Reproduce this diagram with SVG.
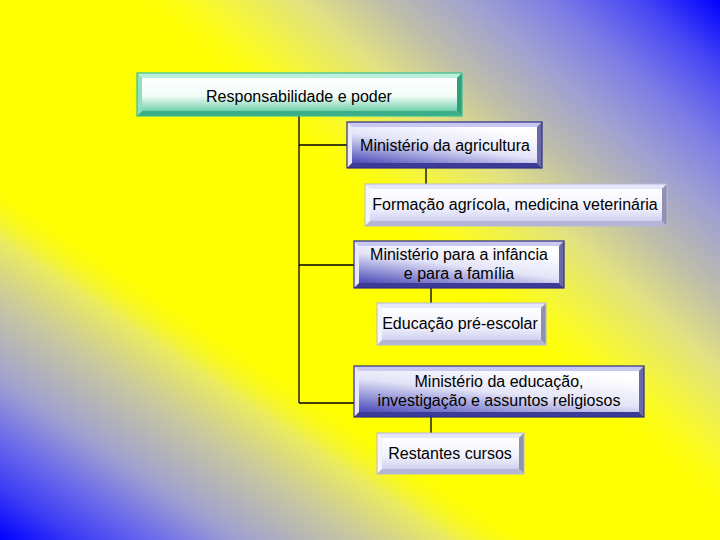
<svg xmlns="http://www.w3.org/2000/svg" width="720" height="540" viewBox="0 0 720 540">
<defs>
<linearGradient id="bgTR" gradientUnits="userSpaceOnUse" x1="720" y1="0" x2="456" y2="300">
<stop offset="0" stop-color="#0000ff"/>
<stop offset="0.1325" stop-color="#4646f5"/>
<stop offset="0.28" stop-color="#7d7de6"/>
<stop offset="0.4125" stop-color="#a0a0d2"/>
<stop offset="0.56" stop-color="#bebeaa"/>
<stop offset="0.6925" stop-color="#e1e182"/>
<stop offset="0.85" stop-color="#f8f830"/>
<stop offset="1" stop-color="#ffff00" stop-opacity="0"/>
</linearGradient>
<linearGradient id="bgBL" gradientUnits="userSpaceOnUse" x1="0" y1="540" x2="166.5" y2="290.4">
<stop offset="0" stop-color="#0000ff"/>
<stop offset="0.147" stop-color="#3c3cf5"/>
<stop offset="0.297" stop-color="#6e6eeb"/>
<stop offset="0.443" stop-color="#a0a0d0"/>
<stop offset="0.667" stop-color="#c8c8a0"/>
<stop offset="0.833" stop-color="#eaea60"/>
<stop offset="1" stop-color="#ffff00" stop-opacity="0"/>
</linearGradient>
<linearGradient id="gTeal" x1="0" y1="0" x2="0" y2="1">
<stop offset="0" stop-color="#ffffff"/>
<stop offset="0.55" stop-color="#f2fbf7"/>
<stop offset="1" stop-color="#6fd0ac"/>
</linearGradient>
<linearGradient id="gBlue" x1="0" y1="1" x2="0.7" y2="0">
<stop offset="0" stop-color="#4a4ab8"/>
<stop offset="0.55" stop-color="#e4e4f8"/>
<stop offset="1" stop-color="#ffffff"/>
</linearGradient>
<linearGradient id="gLight" x1="0" y1="0" x2="0" y2="1">
<stop offset="0" stop-color="#ffffff"/>
<stop offset="0.6" stop-color="#f0f0fc"/>
<stop offset="1" stop-color="#d0d0f0"/>
</linearGradient>
</defs>
<style>
.t{font-family:"Liberation Sans",Arial,sans-serif;font-size:16px;fill:#000;text-anchor:middle}
.c{stroke:#000;stroke-width:1.3;fill:none}
.teal .o{fill:none;stroke:#3cbf94;stroke-width:1.2}
.teal .bt{fill:#b8f0dc}.teal .bl{fill:#8fe0c0}.teal .br{fill:#2f9e7a}.teal .bb{fill:#3aae88}
.teal .f{fill:url(#gTeal)}
.blue .o{fill:none;stroke:#2e2e8a;stroke-width:1.2}
.blue .bt{fill:#c8c8f0}.blue .bl{fill:#e8e8fa}.blue .br{fill:#6a6aa8}.blue .bb{fill:#3c3c96}
.blue .f{fill:url(#gBlue)}
.light .o{fill:none;stroke:#b8b8d8;stroke-width:1}
.light .bt{fill:#e6e6fb}.light .bl{fill:#f4f4fe}.light .br{fill:#9090b0}.light .bb{fill:#b4b4d4}
.light .f{fill:url(#gLight)}
</style>
<rect x="0" y="0" width="720" height="540" fill="#ffff00"/>
<rect x="0" y="0" width="720" height="540" fill="url(#bgTR)"/>
<rect x="0" y="0" width="720" height="540" fill="url(#bgBL)"/>
<g id="connectors">
<path class="c" d="M299,116 V403 M299,145 H347 M299,265 H354 M299,403 H354 M426,168 V184 M431,288 V303 M431,417 V433"/>
</g>
<g id="n1" class="teal">
<polygon class="bt" points="137,73 462,73 457,78 142,78"/>
<polygon class="bl" points="137,73 142,78 142,111 137,116"/>
<polygon class="br" points="462,73 462,116 457,111 457,78"/>
<polygon class="bb" points="137,116 142,111 457,111 462,116"/>
<rect class="f" x="142" y="78" width="315" height="33"/>
<rect class="o" x="137" y="73" width="325" height="43"/>
<text class="t" x="299" y="102">Responsabilidade e poder</text>
</g>
<g id="n2" class="blue">
<polygon class="bt" points="347,122 542,122 537,127 352,127"/>
<polygon class="bl" points="347,122 352,127 352,163 347,168"/>
<polygon class="br" points="542,122 542,168 537,163 537,127"/>
<polygon class="bb" points="347,168 352,163 537,163 542,168"/>
<rect class="f" x="352" y="127" width="185" height="36"/>
<rect class="o" x="347" y="122" width="195" height="46"/>
<text class="t" x="445" y="151">Ministério da agricultura</text>
</g>
<g id="n3" class="light">
<polygon class="bt" points="365,184 667,184 662,189 370,189"/>
<polygon class="bl" points="365,184 370,189 370,221 365,226"/>
<polygon class="br" points="667,184 667,226 662,221 662,189"/>
<polygon class="bb" points="365,226 370,221 662,221 667,226"/>
<rect class="f" x="370" y="189" width="292" height="32"/>
<rect class="o" x="365" y="184" width="302" height="42"/>
<text class="t" x="515" y="210">Formação agrícola, medicina veterinária</text>
</g>
<g id="n4" class="blue">
<polygon class="bt" points="354,241 564,241 559,246 359,246"/>
<polygon class="bl" points="354,241 359,246 359,283 354,288"/>
<polygon class="br" points="564,241 564,288 559,283 559,246"/>
<polygon class="bb" points="354,288 359,283 559,283 564,288"/>
<rect class="f" x="359" y="246" width="200" height="37"/>
<rect class="o" x="354" y="241" width="210" height="47"/>
<text class="t" x="459" y="260">Ministério para a infância</text>
<text class="t" x="459" y="279">e para a família</text>
</g>
<g id="n5" class="light">
<polygon class="bt" points="377,303 546,303 541,308 382,308"/>
<polygon class="bl" points="377,303 382,308 382,340 377,345"/>
<polygon class="br" points="546,303 546,345 541,340 541,308"/>
<polygon class="bb" points="377,345 382,340 541,340 546,345"/>
<rect class="f" x="382" y="308" width="159" height="32"/>
<rect class="o" x="377" y="303" width="169" height="42"/>
<text class="t" x="460" y="329">Educação pré-escolar</text>
</g>
<g id="n6" class="blue">
<polygon class="bt" points="354,366 644,366 639,371 359,371"/>
<polygon class="bl" points="354,366 359,371 359,412 354,417"/>
<polygon class="br" points="644,366 644,417 639,412 639,371"/>
<polygon class="bb" points="354,417 359,412 639,412 644,417"/>
<rect class="f" x="359" y="371" width="280" height="41"/>
<rect class="o" x="354" y="366" width="290" height="51"/>
<text class="t" x="499" y="387">Ministério da educação,</text>
<text class="t" x="499" y="406">investigação e assuntos religiosos</text>
</g>
<g id="n7" class="light">
<polygon class="bt" points="377,433 524,433 519,438 382,438"/>
<polygon class="bl" points="377,433 382,438 382,469 377,474"/>
<polygon class="br" points="524,433 524,474 519,469 519,438"/>
<polygon class="bb" points="377,474 382,469 519,469 524,474"/>
<rect class="f" x="382" y="438" width="137" height="31"/>
<rect class="o" x="377" y="433" width="147" height="41"/>
<text class="t" x="450" y="459">Restantes cursos</text>
</g>
</svg>
